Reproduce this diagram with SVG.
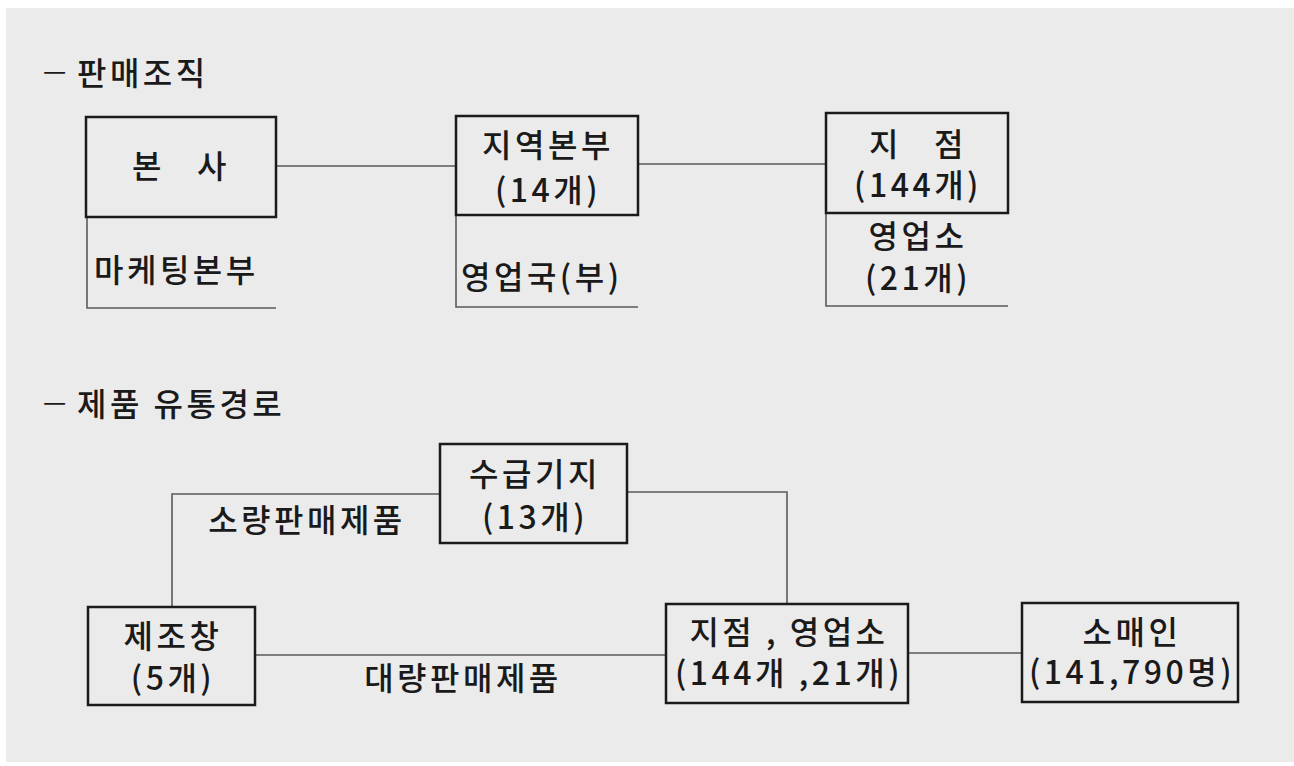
<svg xmlns="http://www.w3.org/2000/svg" width="1294" height="766" viewBox="0 0 1294 766">
<style>
.t{font-family:"Noto Sans CJK KR","Noto Sans CJK SC",sans-serif;font-size:32px;font-weight:500;fill:#1a1a1a;letter-spacing:3.5px}
.m{text-anchor:middle}
.d{font-size:26px;letter-spacing:0;font-weight:400}
.box{fill:none;stroke:#1a1a1a;stroke-width:2.5}
.ln{fill:none;stroke:#5a5a5a;stroke-width:1.6}
</style>
<rect x="0" y="0" width="1294" height="766" fill="#ffffff"/>
<rect x="6" y="8" width="1288" height="754" fill="#ebebeb"/>
<g id="titles">
<text class="t" x="43" y="85"><tspan class="d" dy="-5">—</tspan><tspan dy="5"> 판매조직</tspan></text>
<text class="t" x="43" y="416"><tspan class="d" dy="-5">—</tspan><tspan dy="5"> 제품 유통경로</tspan></text>
</g>
<g id="connectors">
<path class="ln" d="M276,166 H456"/>
<path class="ln" d="M638,164 H826"/>
<path class="ln" d="M87,217 V308 H276"/>
<path class="ln" d="M456,215 V307 H638"/>
<path class="ln" d="M826,213 V306 H1008"/>
<path class="ln" d="M172,607 V494 H440"/>
<path class="ln" d="M627,492 H787 V604"/>
<path class="ln" d="M255,655 H666"/>
<path class="ln" d="M908,653 H1022"/>
</g>
<g id="n-bonsa">
<rect class="box" x="86" y="117" width="190" height="100"/>
<text class="t m" x="181" y="178" xml:space="preserve">본   사</text>
</g>
<g id="n-marketing">
<text class="t" x="94" y="282">마케팅본부</text>
</g>
<g id="n-jiyeok">
<rect class="box" x="456" y="116" width="182" height="99"/>
<text class="t m" x="548" y="157">지역본부</text>
<text class="t m" x="548" y="202">(14개)</text>
</g>
<g id="n-youngupguk">
<text class="t" x="461" y="289">영업국(부)</text>
</g>
<g id="n-jijeom">
<rect class="box" x="826" y="113" width="182" height="100"/>
<text class="t m" x="918" y="156" xml:space="preserve">지   점</text>
<text class="t m" x="918" y="197">(144개)</text>
</g>
<g id="n-youngupso">
<text class="t m" x="918" y="248">영업소</text>
<text class="t m" x="918" y="290">(21개)</text>
</g>
<g id="n-sugeup">
<rect class="box" x="440" y="444" width="187" height="99"/>
<text class="t m" x="535" y="486">수급기지</text>
<text class="t m" x="535" y="529">(13개)</text>
</g>
<g id="l-soryang">
<text class="t m" x="307" y="532">소량판매제품</text>
</g>
<g id="n-jejochang">
<rect class="box" x="88" y="607" width="167" height="98"/>
<text class="t m" x="173" y="648">제조창</text>
<text class="t m" x="173" y="690">(5개)</text>
</g>
<g id="l-daeryang">
<text class="t m" x="463" y="690">대량판매제품</text>
</g>
<g id="n-branch">
<rect class="box" x="666" y="604" width="242" height="99"/>
<text class="t m" x="789" y="644">지점 , 영업소</text>
<text class="t m" x="789" y="685">(144개 ,21개)</text>
</g>
<g id="n-somae">
<rect class="box" x="1022" y="603" width="216" height="99"/>
<text class="t m" x="1132" y="644">소매인</text>
<text class="t m" x="1132" y="684">(141,790명)</text>
</g>
</svg>
